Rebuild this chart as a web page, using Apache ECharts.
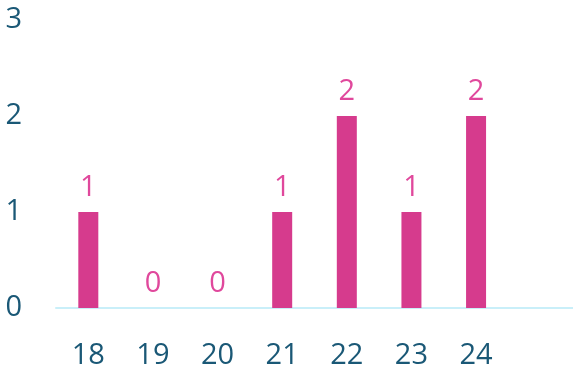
<!DOCTYPE html>
<html>
<head>
<meta charset="utf-8">
<script src="https://cdn.jsdelivr.net/npm/echarts@6/dist/echarts.min.js"></script>
<style>
  html, body { margin: 0; padding: 0; background: #ffffff; }
  #chart { width: 573px; height: 371px; }
</style>
</head>
<body>
<div id="chart"></div>
<script>
// Categories along the bottom (the last slot is left empty)
const categories = ['18', '19', '20', '21', '22', '23', '24', ''];
// Count per category
const counts = [1, 0, 0, 1, 2, 1, 2, null];
// Value axis ticks
const yTicks = [0, 1, 2, 3];

const chart = echarts.init(document.getElementById('chart'), null, { renderer: 'canvas' });

chart.setOption({
  animation: false,
  backgroundColor: '#ffffff',
  grid: { left: 56, width: 520, top: 20, bottom: 63, containLabel: false },
  xAxis: {
    type: 'category',
    data: categories,
    axisLine: { show: true, lineStyle: { color: '#c9eff9', width: 2 } },
    axisTick: { show: false },
    axisLabel: {
      color: '#1a5876',
      fontFamily: 'Open Sans',
      fontSize: 29,
      margin: 33
    },
    splitLine: { show: false }
  },
  yAxis: {
    type: 'value',
    min: yTicks[0],
    max: yTicks[yTicks.length - 1],
    interval: 1,
    axisLine: { show: false },
    axisTick: { show: false },
    splitLine: { show: false },
    axisLabel: {
      color: '#1a5876',
      fontFamily: 'Open Sans',
      fontSize: 29,
      margin: 34,
      padding: [9, 0, 0, 0]
    }
  },
  series: [{
    type: 'bar',
    data: counts,
    barWidth: 20,
    itemStyle: { color: '#d63b8d' },
    label: {
      show: true,
      position: 'top',
      distance: 10,
      color: '#e0489c',
      fontFamily: 'Open Sans',
      fontSize: 29
    }
  }]
});
</script>
</body>
</html>
